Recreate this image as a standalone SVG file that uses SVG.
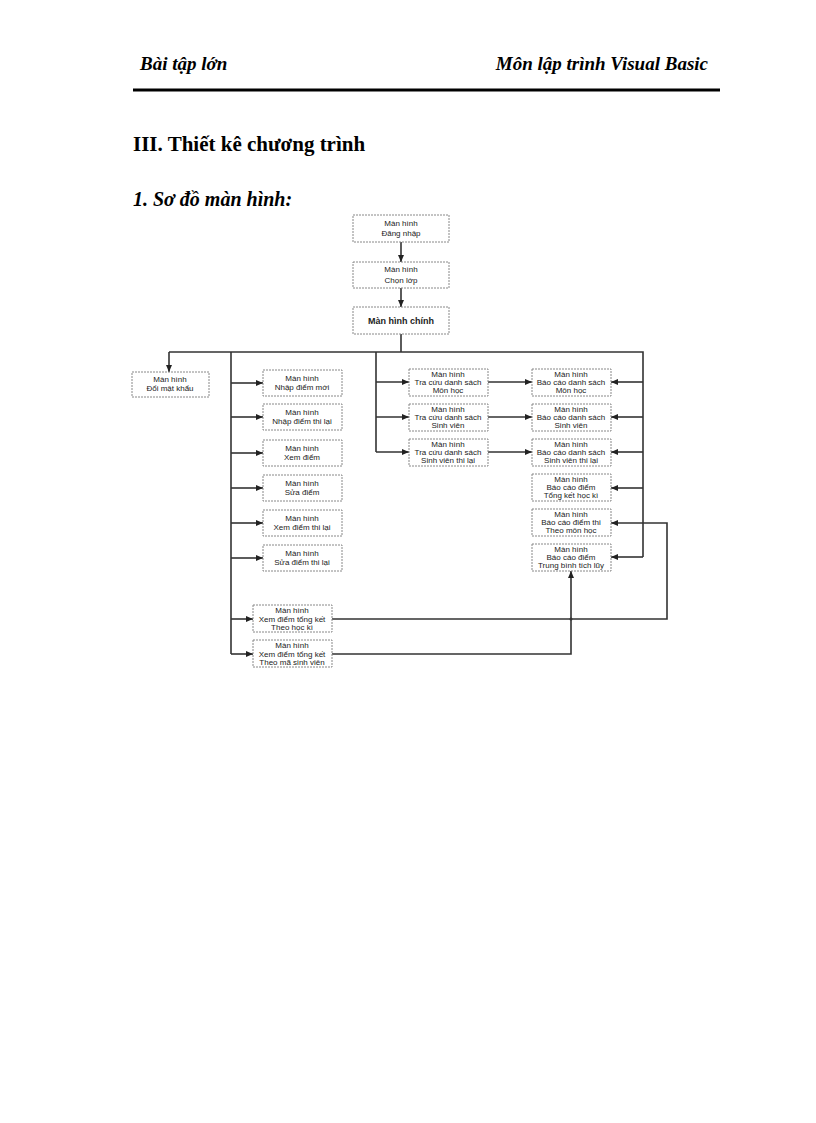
<svg xmlns="http://www.w3.org/2000/svg" width="816" height="1123" viewBox="0 0 816 1123">
<style>
.h{font-family:"Liberation Serif",serif;font-weight:bold;font-style:italic;font-size:19px;fill:#000}
.t{font-family:"Liberation Serif",serif;font-weight:bold;font-size:21px;fill:#000}
.b{fill:#fff;stroke:#888;stroke-width:1;stroke-dasharray:2 1}
.n{font-family:"Liberation Sans",Arial,sans-serif;font-size:8px;fill:#222;text-anchor:middle}
.c{fill:none;stroke:#333;stroke-width:1.6}
</style>
<defs><marker id="a" markerWidth="8" markerHeight="8" refX="7" refY="4" orient="auto" markerUnits="userSpaceOnUse"><path d="M0,1 L7,4 L0,7 z" fill="#222"/></marker></defs>
<rect width="816" height="1123" fill="#fff"/>
<text class="h" x="140" y="70">Bài tập lớn</text>
<text class="h" x="708" y="70" text-anchor="end">Môn lập trình Visual Basic</text>
<line x1="133" y1="90" x2="720" y2="90" stroke="#000" stroke-width="3"/>
<text class="t" x="133" y="151">III.  Thiết kê chương trình</text>
<text class="h" x="133" y="206" style="font-size:20px">1. Sơ đồ màn hình:</text>
<g id="connectors">
<path class="c" d="M401 242V262" marker-end="url(#a)"/>
<path class="c" d="M401 288V307" marker-end="url(#a)"/>
<path class="c" d="M401 334V352"/>
<path class="c" d="M169 352H643V557"/>
<path class="c" d="M169 352V372" marker-end="url(#a)"/>
<path class="c" d="M231 352V654"/>
<path class="c" d="M231 383H263" marker-end="url(#a)"/>
<path class="c" d="M231 417H263" marker-end="url(#a)"/>
<path class="c" d="M231 453H263" marker-end="url(#a)"/>
<path class="c" d="M231 488H263" marker-end="url(#a)"/>
<path class="c" d="M231 523H263" marker-end="url(#a)"/>
<path class="c" d="M231 558H263" marker-end="url(#a)"/>
<path class="c" d="M231 619H253" marker-end="url(#a)"/>
<path class="c" d="M231 654H253" marker-end="url(#a)"/>
<path class="c" d="M376 352V452"/>
<path class="c" d="M376 382H409" marker-end="url(#a)"/>
<path class="c" d="M376 417H409" marker-end="url(#a)"/>
<path class="c" d="M376 452H409" marker-end="url(#a)"/>
<path class="c" d="M488 382H532" marker-end="url(#a)"/>
<path class="c" d="M488 417H532" marker-end="url(#a)"/>
<path class="c" d="M488 452H532" marker-end="url(#a)"/>
<path class="c" d="M643 382H611" marker-end="url(#a)"/>
<path class="c" d="M643 417H611" marker-end="url(#a)"/>
<path class="c" d="M643 452H611" marker-end="url(#a)"/>
<path class="c" d="M643 488H611" marker-end="url(#a)"/>
<path class="c" d="M643 557H611" marker-end="url(#a)"/>
<path class="c" d="M332 619H667V523H611" marker-end="url(#a)"/>
<path class="c" d="M332 654H571V571" marker-end="url(#a)"/>
<circle cx="571" cy="619" r="1.5" fill="#333"/>
</g>
<g id="n1"><rect class="b" x="353" y="215" width="96" height="27"/><text class="n" x="401" y="226">Màn hình</text><text class="n" x="401" y="236">Đăng nhập</text></g>
<g id="n2"><rect class="b" x="353" y="262" width="96" height="26"/><text class="n" x="401" y="272">Màn hình</text><text class="n" x="401" y="283">Chọn lớp</text></g>
<g id="n3"><rect class="b" x="353" y="307" width="96" height="27"/><text class="n" x="401" y="324" font-weight="bold" style="font-size:9px">Màn hình chính</text></g>
<g id="n4"><rect class="b" x="132" y="372" width="77" height="25"/><text class="n" x="170" y="382">Màn hình</text><text class="n" x="170" y="391">Đổi mật khẩu</text></g>
<g id="n5"><rect class="b" x="263" y="370" width="79" height="26"/><text class="n" x="302" y="381">Màn hình</text><text class="n" x="302" y="390">Nhập điểm mới</text></g>
<g id="n6"><rect class="b" x="263" y="404" width="79" height="26"/><text class="n" x="302" y="415">Màn hình</text><text class="n" x="302" y="424">Nhập điểm thi lại</text></g>
<g id="n7"><rect class="b" x="263" y="440" width="79" height="26"/><text class="n" x="302" y="451">Màn hình</text><text class="n" x="302" y="460">Xem điểm</text></g>
<g id="n8"><rect class="b" x="263" y="475" width="79" height="26"/><text class="n" x="302" y="486">Màn hình</text><text class="n" x="302" y="495">Sửa điểm</text></g>
<g id="n9"><rect class="b" x="263" y="510" width="79" height="26"/><text class="n" x="302" y="521">Màn hình</text><text class="n" x="302" y="530">Xem điểm thi lại</text></g>
<g id="n10"><rect class="b" x="263" y="545" width="79" height="26"/><text class="n" x="302" y="556">Màn hình</text><text class="n" x="302" y="565">Sửa điểm thi lại</text></g>
<g id="n11"><rect class="b" x="253" y="605" width="79" height="27"/><text class="n" x="292" y="613">Màn hình</text><text class="n" x="292" y="622">Xem điểm tổng kết</text><text class="n" x="292" y="630">Theo học kì</text></g>
<g id="n12"><rect class="b" x="253" y="640" width="79" height="27"/><text class="n" x="292" y="648">Màn hình</text><text class="n" x="292" y="657">Xem điểm tổng kết</text><text class="n" x="292" y="665">Theo mã sinh viên</text></g>
<g id="n13"><rect class="b" x="409" y="369" width="79" height="27"/><text class="n" x="448" y="377">Màn hình</text><text class="n" x="448" y="385">Tra cứu danh sách</text><text class="n" x="448" y="393">Môn học</text></g>
<g id="n14"><rect class="b" x="409" y="404" width="79" height="27"/><text class="n" x="448" y="412">Màn hình</text><text class="n" x="448" y="420">Tra cứu danh sách</text><text class="n" x="448" y="428">Sinh viên</text></g>
<g id="n15"><rect class="b" x="409" y="439" width="79" height="27"/><text class="n" x="448" y="447">Màn hình</text><text class="n" x="448" y="455">Tra cứu danh sách</text><text class="n" x="448" y="463">Sinh viên thi lại</text></g>
<g id="n16"><rect class="b" x="532" y="369" width="79" height="27"/><text class="n" x="571" y="377">Màn hình</text><text class="n" x="571" y="385">Báo cáo danh sách</text><text class="n" x="571" y="393">Môn học</text></g>
<g id="n17"><rect class="b" x="532" y="404" width="79" height="27"/><text class="n" x="571" y="412">Màn hình</text><text class="n" x="571" y="420">Báo cáo danh sách</text><text class="n" x="571" y="428">Sinh viên</text></g>
<g id="n18"><rect class="b" x="532" y="439" width="79" height="27"/><text class="n" x="571" y="447">Màn hình</text><text class="n" x="571" y="455">Báo cáo danh sách</text><text class="n" x="571" y="463">Sinh viên thi lại</text></g>
<g id="n19"><rect class="b" x="532" y="474" width="79" height="27"/><text class="n" x="571" y="482">Màn hình</text><text class="n" x="571" y="490">Báo cáo điểm</text><text class="n" x="571" y="498">Tổng kết học kì</text></g>
<g id="n20"><rect class="b" x="532" y="509" width="79" height="27"/><text class="n" x="571" y="517">Màn hình</text><text class="n" x="571" y="525">Báo cáo điểm thi</text><text class="n" x="571" y="533">Theo môn học</text></g>
<g id="n21"><rect class="b" x="532" y="544" width="79" height="27"/><text class="n" x="571" y="552">Màn hình</text><text class="n" x="571" y="560">Báo cáo điểm</text><text class="n" x="571" y="568">Trung bình tích lũy</text></g>
</svg>
